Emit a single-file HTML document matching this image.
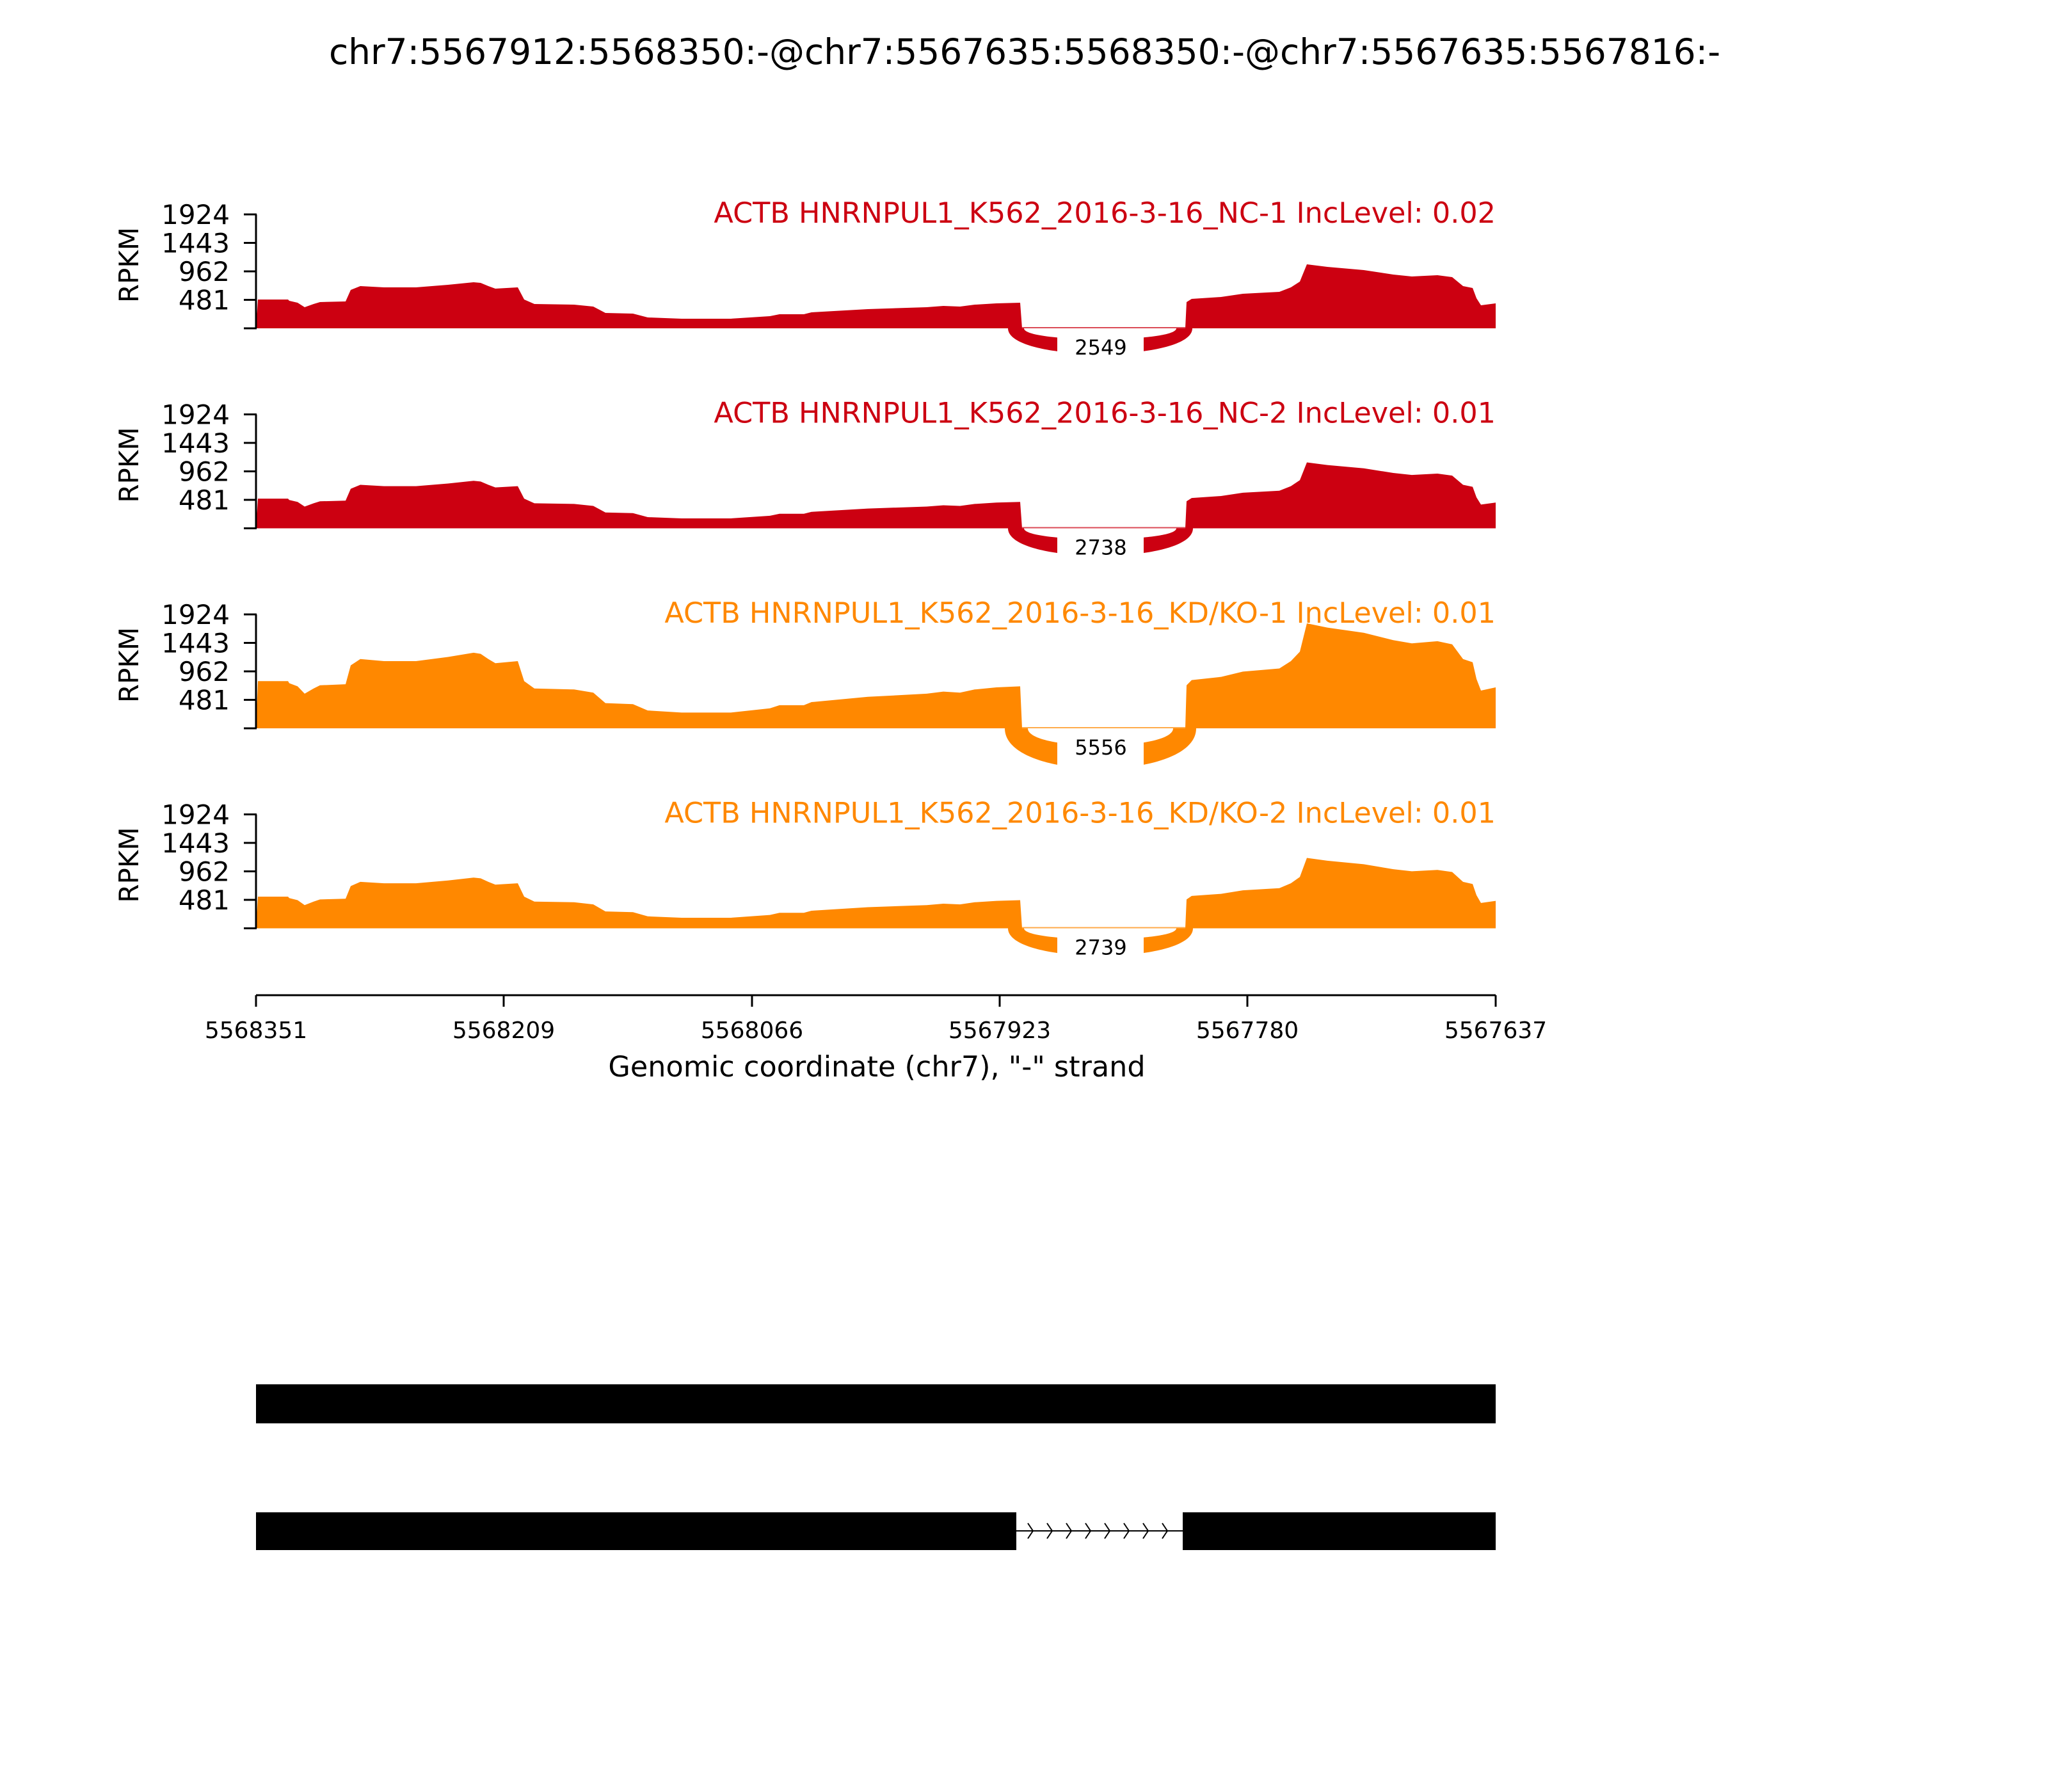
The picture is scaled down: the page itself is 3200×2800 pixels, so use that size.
<!DOCTYPE html>
<html><head><meta charset="utf-8"><style>
html,body{margin:0;padding:0;background:#fff}
svg{display:block;font-family:"DejaVu Sans","Liberation Sans",sans-serif}
</style></head><body>
<svg id="s" width="3200" height="2800" viewBox="0 0 3200 2800" xmlns="http://www.w3.org/2000/svg">
<rect width="3200" height="2800" fill="#fff"/>
<text x="1601" y="100" font-size="55" text-anchor="middle" fill="#000">chr7:5567912:5568350:-@chr7:5567635:5568350:-@chr7:5567635:5567816:-</text>
<g id="panels"></g>
<!-- x axis -->
<line x1="400" y1="1555" x2="2337" y2="1555" stroke="#000" stroke-width="3"/>
<g stroke="#000" stroke-width="3">
<line x1="400" y1="1555" x2="400" y2="1573"/>
<line x1="787" y1="1555" x2="787" y2="1573"/>
<line x1="1175" y1="1555" x2="1175" y2="1573"/>
<line x1="1562" y1="1555" x2="1562" y2="1573"/>
<line x1="1949" y1="1555" x2="1949" y2="1573"/>
<line x1="2337" y1="1555" x2="2337" y2="1573"/>
</g>
<g font-size="36" text-anchor="middle" fill="#000">
<text x="400" y="1622">5568351</text>
<text x="787" y="1622">5568209</text>
<text x="1175" y="1622">5568066</text>
<text x="1562" y="1622">5567923</text>
<text x="1949" y="1622">5567780</text>
<text x="2337" y="1622">5567637</text>
</g>
<text x="1370" y="1682" font-size="44.5" text-anchor="middle" fill="#000">Genomic coordinate (chr7), "-" strand</text>
<!-- gene models -->
<rect x="400" y="2163" width="1937" height="61" fill="#000"/>
<rect x="400" y="2363" width="1188" height="59" fill="#000"/>
<rect x="1848" y="2363" width="489" height="59" fill="#000"/>
<line x1="1588" y1="2392" x2="1848" y2="2392" stroke="#000" stroke-width="2"/>
<g id="chev" stroke="#000" stroke-width="2" fill="none"></g>
</svg>
<script>
(function(){
var pts=[[403,45],[450,45],[452,43],[465,40],[476,33],[490,38],[500,41],[540,42],[548,60],[563,66],[600,64],[650,64],[700,68],[740,72],[751,71],[763,66],[774,62],[809,64],[819,45],[835,38],[897,37],[927,34],[946,24],[989,23],[1012,17],[1065,15],[1142,15],[1203,19],[1218,22],[1256,22],[1268,25],[1356,30],[1448,33],[1474,35],[1500,34],[1523,37],[1557,39],[1594,40]];
var pts2=[[1854,41],[1862,46],[1908,49],[1942,54],[1999,57],[2017,64],[2031,73],[2042,100],[2074,96],[2131,91],[2177,84],[2206,81],[2246,83],[2269,80],[2286,66],[2301,63],[2307,47],[2314,36],[2337,39]];
var panels=[
 {b:513,c:"#CC0011",lab:"ACTB HNRNPUL1_K562_2016-3-16_NC-1 IncLevel: 0.02",m:1.0,n:"2549",o:[1575,1863,40],i:[1600,1838,17]},
 {b:825.5,c:"#CC0011",lab:"ACTB HNRNPUL1_K562_2016-3-16_NC-2 IncLevel: 0.01",m:1.03,n:"2738",o:[1575,1864,43],i:[1600,1838,17]},
 {b:1138,c:"#FF8800",lab:"ACTB HNRNPUL1_K562_2016-3-16_KD/KO-1 IncLevel: 0.01",m:1.64,n:"5556",o:[1570,1869,63],i:[1606,1833,27]},
 {b:1450.5,c:"#FF8800",lab:"ACTB HNRNPUL1_K562_2016-3-16_KD/KO-2 IncLevel: 0.01",m:1.1,n:"2739",o:[1575,1864,43],i:[1600,1838,17]}
];
var g=document.getElementById("panels"),h="";
panels.forEach(function(p){
 var b=p.b,top=b-178;
 var d="M400,"+b;
 pts.forEach(function(q){d+=" L"+q[0]+","+(b-q[1]*p.m).toFixed(1);});
 d+=" L1597,"+b+" L1852,"+b;
 pts2.forEach(function(q){d+=" L"+q[0]+","+(b-q[1]*p.m).toFixed(1);});
 d+=" L2337,"+b+" Z";
 h+='<path d="'+d+'" fill="'+p.c+'"/>';
 h+='<line x1="1597" y1="'+(b-1)+'" x2="1852" y2="'+(b-1)+'" stroke="'+p.c+'" stroke-width="2" opacity="0.7"/>';
 var o=p.o,i=p.i,ko=b+o[2]*4/3,ki=b+i[2]*4/3;
 var a="M"+o[0]+","+b+" C"+o[0]+","+ko+" "+o[1]+","+ko+" "+o[1]+","+b+" L"+i[1]+","+b+" C"+i[1]+","+ki+" "+i[0]+","+ki+" "+i[0]+","+b+" Z";
 h+='<path d="'+a+'" fill="'+p.c+'"/>';
 h+='<rect x="1652" y="'+(b+1)+'" width="135" height="'+(o[2]+8)+'" fill="#fff"/>';
 h+='<text x="1720" y="'+(b+41)+'" font-size="32" text-anchor="middle" fill="#000">'+p.n+'</text>';
 h+='<line x1="400" y1="'+top+'" x2="400" y2="'+b+'" stroke="#000" stroke-width="3"/>';
 var labs=["1924","1443","962","481",""];
 for(var k=0;k<5;k++){var y=top+k*44.5;
  h+='<line x1="381" y1="'+y+'" x2="401" y2="'+y+'" stroke="#000" stroke-width="3"/>';
  if(labs[k])h+='<text x="359" y="'+(y+15)+'" font-size="42" text-anchor="end" fill="#000">'+labs[k]+'</text>';}
 h+='<text transform="translate(216,'+(top+79)+') rotate(-90)" font-size="42" text-anchor="middle" fill="#000">RPKM</text>';
 h+='<text x="2337" y="'+(top+13)+'" font-size="44.5" text-anchor="end" fill="'+p.c+'">'+p.lab+'</text>';
});
g.innerHTML=h;
var c="";
for(var j=0;j<8;j++){var x=1606+j*30;c+='<path d="M'+x+',2380 L'+(x+8)+',2392 L'+x+',2404"/>';}
document.getElementById("chev").innerHTML=c;
})();
</script>
</body></html>
